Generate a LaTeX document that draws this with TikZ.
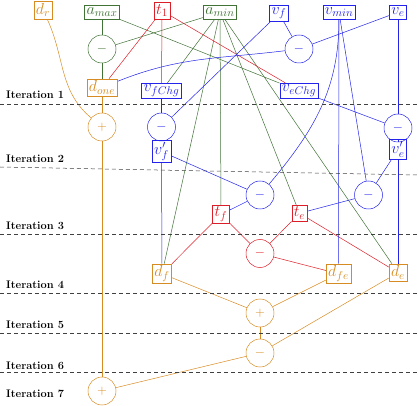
\documentclass[tikz,border=0pt]{standalone}
\usepackage{fix-cm}
\usetikzlibrary{backgrounds}
\definecolor{corg}{RGB}{215,140,35}
\definecolor{cgrn}{RGB}{65,115,55}
\definecolor{cred}{RGB}{220,30,40}
\definecolor{cblu}{RGB}{35,35,235}
\tikzset{
  vbox/.style={draw=#1, text=#1, rectangle, inner sep=2pt, anchor=base, font=\fontsize{16}{18}\selectfont, line width=0.5pt},
  opc/.style={draw=#1, text=#1, circle, minimum size=28pt, inner sep=0pt, font=\fontsize{13}{15}\selectfont, line width=0.5pt},
  edg/.style={draw=#1, line width=0.5pt},
  itline/.style={draw=black!75, dash pattern=on 4pt off 3pt, line width=0.5pt},
  itlabel/.style={anchor=base west, inner sep=0pt, font=\fontsize{11}{13}\selectfont\bfseries}
}
\begin{document}
\begin{tikzpicture}[x=1pt,y=-1pt]
\useasboundingbox (0,0) rectangle (418,406);
% iteration separators
\draw[itline] (0,104) coordinate (l1a) -- (418,104) coordinate (l1b);
\draw[itline] (0,167) coordinate (l2a) -- (418,175) coordinate (l2b);
\draw[itline] (0,234) coordinate (l3a) -- (418,234) coordinate (l3b);
\draw[itline] (0,293) coordinate (l4a) -- (418,293) coordinate (l4b);
\draw[itline] (0,333) coordinate (l5a) -- (418,333) coordinate (l5b);
\draw[itline] (0,372) coordinate (l6a) -- (418,372) coordinate (l6b);
\node[itlabel] (it1) at (6,99) {Iteration 1};
\node[itlabel] (it2) at (6,163) {Iteration 2};
\node[itlabel] (it3) at (6,230) {Iteration 3};
\node[itlabel] (it4) at (6,289) {Iteration 4};
\node[itlabel] (it5) at (6,329) {Iteration 5};
\node[itlabel] (it6) at (6,369) {Iteration 6};
\node[itlabel] (it7) at (6,397) {Iteration 7};
% top row
\node[vbox=corg] (dr) at (43,14.5) {$d_r$};
\node[vbox=cgrn] (amax) at (102,14.5) {$a_{max}$};
\node[vbox=cred] (t1) at (162,14.5) {$t_1$};
\node[vbox=cgrn] (amin) at (220,14.5) {$a_{min}$};
\node[vbox=cblu] (vf) at (279,14.5) {$v_f$};
\node[vbox=cblu] (vmin) at (339,14.5) {$v_{min}$};
\node[vbox=cblu] (ve) at (398,14.5) {$v_e$};
% operators and intermediate values
\node[opc=cgrn] (mg) at (102,49) {$-$};
\node[opc=cblu] (mt) at (299,49) {$-$};
\node[vbox=corg] (done) at (102,92) {$d_{one}$};
\node[vbox=cblu] (vfchg) at (161.5,92) {$v_{fChg}$};
\node[vbox=cblu] (vechg) at (299,92) {$v_{eChg}$};
\node[opc=corg] (p1) at (102,127) {$+$};
\node[opc=cblu] (mvf) at (161.5,127) {$-$};
\node[opc=cblu] (mve) at (398,128) {$-$};
\node[vbox=cblu] (vfp) at (161.5,154.5) {$v'_f$};
\node[vbox=cblu] (vep) at (398,153.5) {$v'_e$};
\node[opc=cblu] (m1) at (260,195) {$-$};
\node[opc=cblu] (m2) at (368.5,195) {$-$};
\node[vbox=cred] (tf) at (221,217) {$t_f$};
\node[vbox=cred] (te) at (299.5,217) {$t_e$};
\node[opc=cred] (mr) at (260,253.5) {$-$};
\node[vbox=corg] (df) at (162,277) {$d_f$};
\node[vbox=corg] (dfe) at (338.5,277) {$d_{fe}$};
\node[vbox=corg] (de) at (398,277) {$d_e$};
\node[opc=corg] (p2) at (260,313) {$+$};
\node[opc=corg] (m3) at (260,353) {$-$};
\node[opc=corg] (p3) at (102,391) {$+$};
\begin{scope}[on background layer]
% orange
\draw[edg=corg] (dr) to[out=-65,in=140] (p1);
\draw[edg=corg] (done) -- (p1);
\draw[edg=corg] (p1) -- (p3);
\draw[edg=corg] (df) -- (p2);
\draw[edg=corg] (dfe) -- (p2);
\draw[edg=corg] (p2) -- (m3);
\draw[edg=corg] (de) -- (m3);
\draw[edg=corg] (m3) -- (p3);
% green
\draw[edg=cgrn] (amax) -- (mg);
\draw[edg=cgrn] (amin) -- (mg);
\draw[edg=cgrn] (mg) -- (done);
\draw[edg=cgrn] (amax) -- (vechg);
\draw[edg=cgrn] (amin) -- (vfchg);
\draw[edg=cgrn] (amin) -- (df);
\draw[edg=cgrn] (amin) -- (tf);
\draw[edg=cgrn] (amin) -- (te);
\draw[edg=cgrn] (amin) -- (de);
% red
\draw[edg=cred] (t1) -- (done);
\draw[edg=cred] (t1) -- (vfchg);
\draw[edg=cred] (t1) -- (vechg);
\draw[edg=cred] (tf) -- (df);
\draw[edg=cred] (tf) -- (mr);
\draw[edg=cred] (te) -- (mr);
\draw[edg=cred] (te) -- (de);
\draw[edg=cred] (mr) -- (dfe);
% blue
\draw[edg=cblu] (vf) -- (mt);
\draw[edg=cblu] (ve) -- (mt);
\draw[edg=cblu] (mt) to[out=187,in=22] (done);
\draw[edg=cblu] (vf) -- (mvf);
\draw[edg=cblu] (vfchg) -- (mvf);
\draw[edg=cblu] (mvf) -- (vfp);
\draw[edg=cblu] (vfp) -- (df);
\draw[edg=cblu] (vfp) -- (m1);
\draw[edg=cblu] (vmin) to[out=-90,in=50] (m1);
\draw[edg=cblu] (vmin) -- (dfe);
\draw[edg=cblu] (vmin) -- (m2);
\draw[edg=cblu] (ve) -- (mve);
\draw[edg=cblu] (vechg) -- (mve);
\draw[edg=cblu] (mve) -- (vep);
\draw[edg=cblu] (vep) -- (de);
\draw[edg=cblu] (vep) -- (m2);
\draw[edg=cblu] (m1) -- (tf);
\draw[edg=cblu] (m2) -- (te);
\end{scope}
\end{tikzpicture}
\end{document}
